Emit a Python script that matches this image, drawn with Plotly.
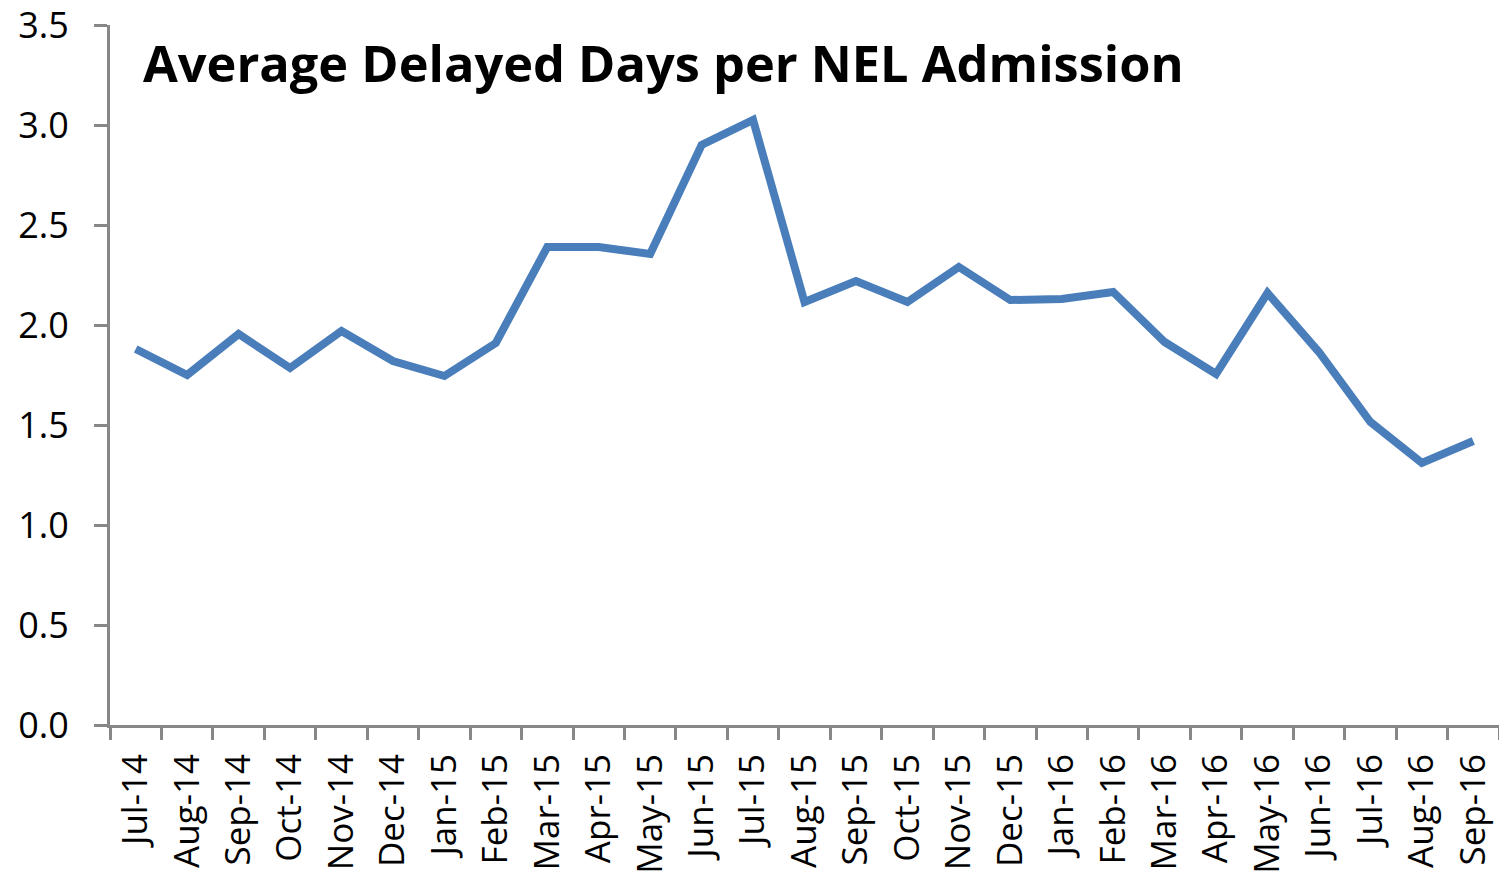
import plotly.graph_objects as go

months = ["Jul-14", "Aug-14", "Sep-14", "Oct-14", "Nov-14", "Dec-14", "Jan-15", "Feb-15",
          "Mar-15", "Apr-15", "May-15", "Jun-15", "Jul-15", "Aug-15", "Sep-15", "Oct-15",
          "Nov-15", "Dec-15", "Jan-16", "Feb-16", "Mar-16", "Apr-16", "May-16", "Jun-16",
          "Jul-16", "Aug-16", "Sep-16"]
avg_delayed_days = [1.88, 1.75, 1.955, 1.785, 1.97, 1.82, 1.745, 1.91,
                    2.39, 2.39, 2.355, 2.90, 3.025, 2.115, 2.22, 2.115,
                    2.29, 2.125, 2.13, 2.165, 1.915, 1.755, 2.16, 1.865,
                    1.515, 1.31, 1.42]
title_text = "Average Delayed Days per NEL Admission"

FONT = "Open Sans"
AXIS_GREY = "#878787"

fig = go.Figure()
fig.add_trace(go.Scatter(
    x=months, y=avg_delayed_days, mode="lines",
    line=dict(color="#4a7ebb", width=8, shape="linear"),
    showlegend=False, hoverinfo="x+y",
))

fig.update_layout(
    width=1499, height=885,
    margin=dict(l=110, r=0, t=25, b=160, autoexpand=False),
    plot_bgcolor="white", paper_bgcolor="white",
    font=dict(family=FONT, color="black"),
    annotations=[dict(
        text="<b>" + title_text + "</b>", xref="paper", yref="paper",
        x=0.022, y=0.947, xanchor="left", yanchor="middle", showarrow=False,
        font=dict(family=FONT, size=50.5, color="black"),
    )],
)
fig.update_xaxes(
    type="category", range=[-0.5, len(months) - 0.5], automargin=False,
    showline=True, linecolor=AXIS_GREY, linewidth=3,
    ticks="outside", tickson="boundaries", ticklen=12, tickwidth=3, tickcolor=AXIS_GREY,
    tickangle=-90, tickfont=dict(family=FONT, size=35, color="black"),
    ticklabelstandoff=12,
    showgrid=False, zeroline=False,
)
fig.update_yaxes(
    range=[0, 3.5], dtick=0.5, tickformat=".1f", automargin=False,
    showline=True, linecolor=AXIS_GREY, linewidth=3,
    ticks="outside", ticklen=13, tickwidth=3, tickcolor=AXIS_GREY,
    tickfont=dict(family=FONT, size=36, color="black"), ticklabelstandoff=18,
    ticklabeloverflow="allow",
    showgrid=False, zeroline=False,
)

fig.write_html(
    "out.html",
    config={"displayModeBar": False},
    post_script="document.body.style.margin='0';document.body.style.overflow='hidden';",
)
